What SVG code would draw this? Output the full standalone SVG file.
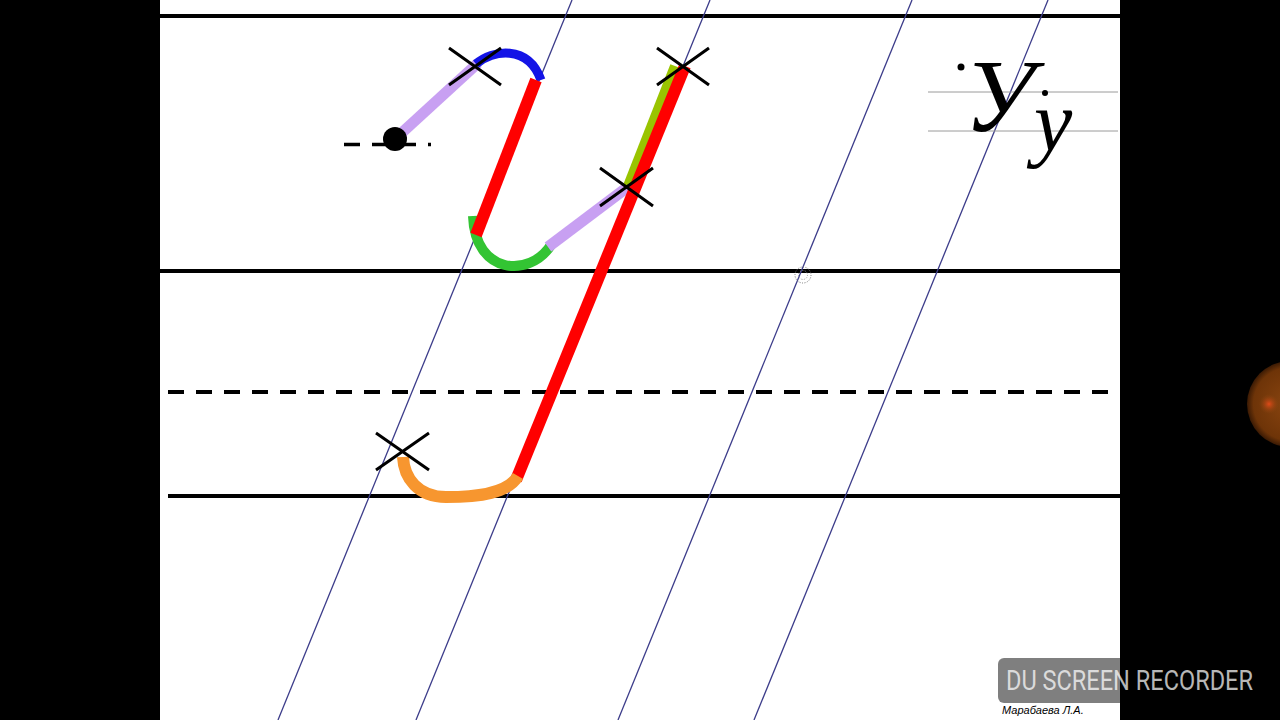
<svg xmlns="http://www.w3.org/2000/svg" width="1280" height="720" viewBox="0 0 1280 720">
  <defs>
    <style>
      .hline { stroke: #000; stroke-width: 4; fill: none; }
      .slant { stroke: #3c3c8a; stroke-width: 1.3; fill: none; }
      .stroke { fill: none; stroke-linecap: butt; }
      .cross { stroke: #000; stroke-width: 3; fill: none; }
      .guide { stroke: #9a9a9a; stroke-width: 1; fill: none; }
      .cursive { font-family: "Liberation Serif", serif; font-style: italic; fill: #000; }
    </style>
    <radialGradient id="rec" cx="0.5" cy="0.5" r="0.5">
      <stop offset="0" stop-color="#8a4510"/>
      <stop offset="0.85" stop-color="#6e3408"/>
      <stop offset="1" stop-color="#3a1a04"/>
    </radialGradient>
    <radialGradient id="recdot" cx="0.5" cy="0.5" r="0.5">
      <stop offset="0" stop-color="#e04a18"/>
      <stop offset="1" stop-color="#8a4510" stop-opacity="0"/>
    </radialGradient>
  </defs>

  <rect x="0" y="0" width="1280" height="720" fill="#000"/>
  <rect x="160" y="0" width="960" height="720" fill="#fff"/>

  <g id="ruling">
    <line class="hline" x1="160" y1="16" x2="1120" y2="16"/>
    <line class="hline" x1="160" y1="271" x2="1120" y2="271"/>
    <line class="hline" x1="168" y1="392" x2="1110" y2="392" stroke-dasharray="16 12"/>
    <line class="hline" x1="168" y1="496" x2="1120" y2="496"/>
  </g>

  <g id="slants">
    <line class="slant" x1="572" y1="0" x2="278" y2="720"/>
    <line class="slant" x1="710" y1="0" x2="416" y2="720"/>
    <line class="slant" x1="912" y1="0" x2="618" y2="720"/>
    <line class="slant" x1="1048" y1="0" x2="754" y2="720"/>
  </g>

  <g id="speck">
    <circle cx="803" cy="275" r="8" fill="none" stroke="#777" stroke-width="1" stroke-dasharray="1 1.5"/>
    <circle cx="803" cy="275" r="4.5" fill="none" stroke="#999" stroke-width="1" stroke-dasharray="1 1.5"/>
  </g>

  <g id="start">
    <line x1="344" y1="144.5" x2="431" y2="144.5" stroke="#000" stroke-width="3.5" stroke-dasharray="16 12"/>
  </g>

  <g id="letter-strokes">
    <path class="stroke" d="M395,139 L478,63" stroke="#c8a0f2" stroke-width="11"/>
    <path class="stroke" d="M476,64 C492,50 528,44 541,80" stroke="#1414e6" stroke-width="9"/>
    <path class="stroke" d="M473,216 C475,275 530,278 551,245" stroke="#33c433" stroke-width="10"/>
    <path class="stroke" d="M536,80 L476,235" stroke="#ff0000" stroke-width="12"/>
    <path class="stroke" d="M548,247 L629,186" stroke="#c8a0f2" stroke-width="11"/>
    <path class="stroke" d="M628,186 L675,66" stroke="#99c400" stroke-width="10"/>
    <path class="stroke" d="M685,66 L516,480" stroke="#ff0000" stroke-width="12"/>
    <path class="stroke" d="M403,457 C404,478 418,497 446,497 C480,497 508,493 518,476" stroke="#f7962f" stroke-width="12" stroke-linecap="round"/>
    <circle cx="395" cy="139" r="12" fill="#000"/>
  </g>

  <g id="crosses">
    <path class="cross" d="M449,48 L501,85 M449,85 L501,48"/>
    <path class="cross" d="M657,48 L709,85 M657,85 L709,48"/>
    <path class="cross" d="M600,168 L653,206 M600,206 L653,168"/>
    <path class="cross" d="M376,433 L429,470 M376,470 L429,433"/>
  </g>

  <g id="sample">
    <line class="guide" x1="928" y1="92" x2="1118" y2="92"/>
    <line class="guide" x1="928" y1="131" x2="1118" y2="131"/>
    <text class="cursive" x="964" y="131" font-size="104">У</text>
    <text class="cursive" x="1034" y="150" font-size="86">у</text>
    <circle cx="961" cy="67" r="3.5" fill="#000"/>
    <circle cx="1045" cy="93" r="3" fill="#000"/>
  </g>

  <g id="record-button">
    <circle cx="1290" cy="404" r="43" fill="url(#rec)"/>
    <circle cx="1269" cy="404" r="10" fill="url(#recdot)"/>
  </g>

  <g id="watermark">
    <rect x="998" y="658" width="264" height="45" rx="6" fill="#000" fill-opacity="0.5"/>
    <text x="1006" y="690" font-family="Roboto, 'Liberation Sans', sans-serif" font-size="27" fill="#fff" fill-opacity="0.72" textLength="247" lengthAdjust="spacingAndGlyphs">DU SCREEN RECORDER</text>
    <text x="1002" y="714" font-family="'Liberation Sans', sans-serif" font-style="italic" font-size="11" fill="#000">Марабаева Л.А.</text>
  </g>
</svg>
